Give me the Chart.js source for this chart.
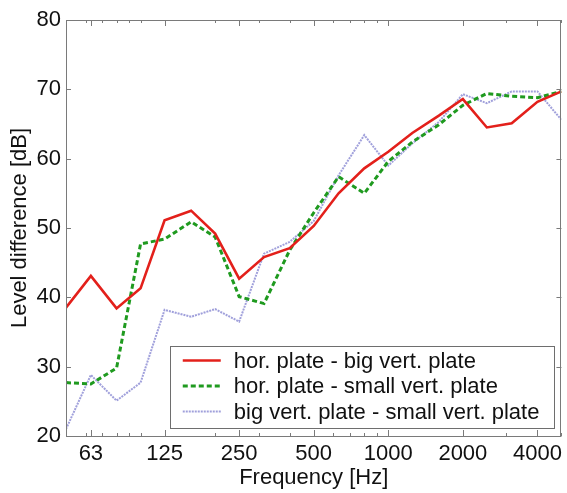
<!DOCTYPE html>
<html>
<head>
<meta charset="utf-8">
<script src="https://cdn.jsdelivr.net/npm/chart.js@4/dist/chart.umd.min.js"></script>
<style>
  html, body { margin: 0; padding: 0; background: #fff; }
  #wrap { width: 567px; height: 493px; }
</style>
</head>
<body>
<div id="wrap"><canvas id="c" width="567" height="493"></canvas></div>
<script>
const frequencies = [50, 63, 80, 100, 125, 160, 200, 250, 315, 400, 500, 630, 800, 1000, 1250, 1600, 2000, 2500, 3150, 4000, 5000];
const horBigVert   = [38.5, 43.1, 38.4, 41.3, 51.1, 52.5, 49.2, 42.7, 45.8, 47.1, 50.3, 55.0, 58.6, 61.0, 63.7, 66.2, 68.6, 64.5, 65.1, 68.2, 69.7];
const horSmallVert = [27.7, 27.5, 29.8, 47.7, 48.4, 50.9, 48.7, 40.1, 39.1, 46.8, 52.2, 57.4, 55.0, 59.6, 62.4, 64.9, 67.7, 69.4, 69.0, 68.8, 69.7];
const bigSmallVert = [21.0, 28.8, 25.1, 27.7, 38.2, 37.2, 38.3, 36.5, 46.3, 48.0, 51.0, 57.6, 63.4, 59.0, 62.2, 65.3, 69.3, 68.0, 69.7, 69.7, 65.6];
const seriesLabels = ["hor. plate - big vert. plate", "hor. plate - small vert. plate", "big vert. plate - small vert. plate"];
const xTickLabels = [63, 125, 250, 500, 1000, 2000, 4000];
const xMinorTicks = [60, 70, 80, 90, 100, 200, 300, 400, 600, 700, 800, 900, 3000, 5000];
const yTickValues = [20, 30, 40, 50, 60, 70, 80];

const FONT = "'Liberation Sans', Arial, Helvetica, sans-serif";
const AXIS_COLOR = '#7a7a7a';

function pts(vals) { return frequencies.map((f, i) => ({ x: f, y: vals[i] })); }

const framePlugin = {
  id: 'frame',
  afterDatasetsDraw(chart) {
    const { ctx, chartArea: a, scales } = chart;
    const xs = scales.x, ys = scales.y;
    ctx.save();
    ctx.strokeStyle = AXIS_COLOR;
    ctx.lineWidth = 1;
    ctx.beginPath();
    // major x ticks (inward, top & bottom)
    xTickLabels.forEach(v => {
      const px = Math.round(xs.getPixelForValue(v)) + 0.5;
      ctx.moveTo(px, a.bottom); ctx.lineTo(px, a.bottom - 6);
      ctx.moveTo(px, a.top); ctx.lineTo(px, a.top + 6);
    });
    xMinorTicks.forEach(v => {
      const px = Math.round(xs.getPixelForValue(v)) + 0.5;
      ctx.moveTo(px, a.bottom); ctx.lineTo(px, a.bottom - 3);
      ctx.moveTo(px, a.top); ctx.lineTo(px, a.top + 3);
    });
    yTickValues.forEach(v => {
      const py = Math.round(ys.getPixelForValue(v)) + 0.5;
      ctx.moveTo(a.left, py); ctx.lineTo(a.left + 5, py);
      ctx.moveTo(a.right, py); ctx.lineTo(a.right - 5, py);
    });
    ctx.stroke();
    ctx.strokeRect(Math.round(a.left) + 0.5, Math.round(a.top) + 0.5, Math.round(a.right - a.left) - 1, Math.round(a.bottom - a.top));
    ctx.restore();
  }
};

const legendPlugin = {
  id: 'boxLegend',
  afterDraw(chart) {
    const { ctx, chartArea: a } = chart;
    const ds = chart.data.datasets;
    ctx.save();
    ctx.font = '22px ' + FONT;
    let maxW = 0;
    ds.forEach(d => { maxW = Math.max(maxW, ctx.measureText(d.label).width); });
    const rowH = 25.5;
    const padL = 13, sampleW = 38, gap = 13, padR = 14;
    const boxW = padL + sampleW + gap + maxW + padR;
    const boxH = rowH * ds.length + 5;
    const right = a.right - 8, bottom = a.bottom - 9;
    const left = right - boxW, top = bottom - boxH;
    ctx.fillStyle = '#fff';
    ctx.fillRect(left, top, boxW, boxH);
    ctx.strokeStyle = '#6e6e6e';
    ctx.lineWidth = 1;
    ctx.strokeRect(Math.round(left) + 0.5, Math.round(top) + 0.5, Math.round(boxW), Math.round(boxH));
    ds.forEach((d, i) => {
      const cy = top + 15 + i * rowH;
      ctx.save();
      ctx.strokeStyle = d.borderColor;
      ctx.lineWidth = d.borderWidth;
      ctx.setLineDash(d.borderDash || []);
      ctx.beginPath();
      ctx.moveTo(left + padL, cy);
      ctx.lineTo(left + padL + sampleW, cy);
      ctx.stroke();
      ctx.restore();
      ctx.fillStyle = '#111';
      ctx.textBaseline = 'middle';
      ctx.textAlign = 'left';
      ctx.fillText(d.label, left + padL + sampleW + gap, cy + 1);
    });
    ctx.restore();
  }
};

new Chart(document.getElementById('c'), {
  type: 'line',
  data: {
    datasets: [
      { label: seriesLabels[0], data: pts(horBigVert), borderColor: '#e3201b', borderWidth: 2.6, pointRadius: 0, tension: 0, fill: false },
      { label: seriesLabels[1], data: pts(horSmallVert), borderColor: '#1f9a1f', borderWidth: 3, borderDash: [5, 3], pointRadius: 0, tension: 0, fill: false },
      { label: seriesLabels[2], data: pts(bigSmallVert), borderColor: 'rgba(150,150,215,0.9)', borderWidth: 2, borderDash: [2, 1], pointRadius: 0, tension: 0, fill: false }
    ]
  },
  options: {
    responsive: false,
    animation: false,
    layout: { padding: { top: 20, right: 2, left: 0, bottom: 0 } },
    plugins: { legend: { display: false }, tooltip: { enabled: false } },
    scales: {
      x: {
        type: 'logarithmic',
        min: 50, max: 5000,
        afterBuildTicks(scale) { scale.ticks = xTickLabels.map(v => ({ value: v })); },
        afterFit(scale) { scale.height = 57; },
        grid: { display: false, drawTicks: false },
        border: { display: false },
        ticks: {
          autoSkip: false, maxRotation: 0, padding: 5,
          color: '#111', font: { family: FONT, size: 22 },
          callback: (v) => String(v)
        },
        title: { display: true, text: 'Frequency [Hz]', color: '#111', font: { family: FONT, size: 22 }, padding: { top: 0, bottom: 2 } }
      },
      y: {
        min: 20, max: 80,
        afterBuildTicks(scale) { scale.ticks = yTickValues.map(v => ({ value: v })); },
        afterFit(scale) { scale.width = 66; },
        grid: { display: false, drawTicks: false },
        border: { display: false },
        ticks: { padding: 5, color: '#111', font: { family: FONT, size: 22 } },
        title: { display: true, text: 'Level difference [dB]', color: '#111', font: { family: FONT, size: 22 }, padding: { top: 7, bottom: 0 } }
      }
    }
  },
  plugins: [framePlugin, legendPlugin]
});
</script>
</body>
</html>
